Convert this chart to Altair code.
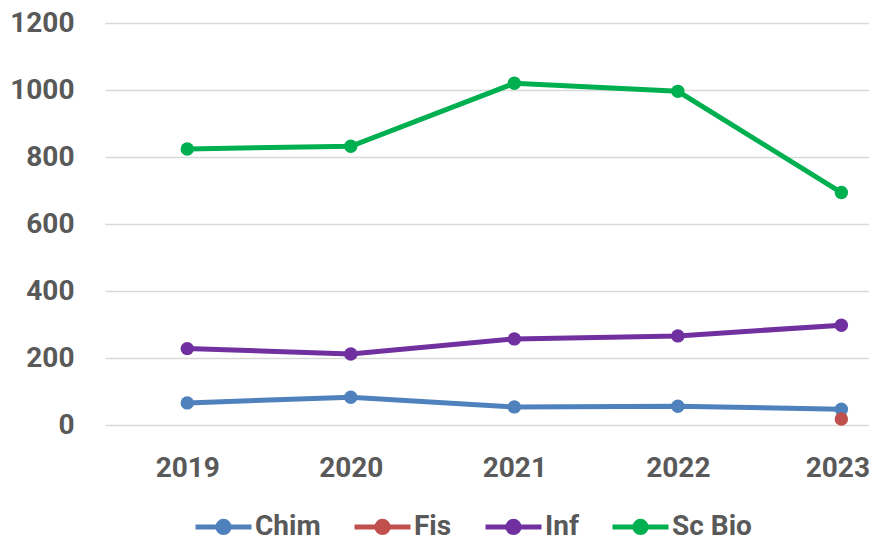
import altair as alt
import pandas as pd

years = [2019, 2020, 2021, 2022, 2023]
series_names = ["Chim", "Fis", "Inf", "Sc Bio"]
chim = [66, 83, 54, 56, 47]
fis = [None, None, None, None, 18]
inf = [228, 212, 257, 266, 298]
sc_bio = [824, 832, 1020, 996, 694]
colors = ["#4F81BD", "#C0504D", "#7030A0", "#00B050"]
y_ticks = [0, 200, 400, 600, 800, 1000, 1200]

rows = []
for name, vals in zip(series_names, [chim, fis, inf, sc_bio]):
    for yr, v in zip(years, vals):
        if v is not None:
            rows.append({"Anno": yr, "Serie": name, "Valore": v})
df = pd.DataFrame(rows)

FONT = "Roboto"
GREY = "#595959"

color = alt.Color(
    "Serie:N",
    scale=alt.Scale(domain=series_names, range=colors),
    legend=alt.Legend(
        title=None,
        orient="none",
        direction="horizontal",
        legendX=88,
        legendY=473,
        symbolType="M-1,0L1,0M-0.2,0A0.2,0.2,0,1,0,0.2,0A0.2,0.2,0,1,0,-0.2,0Z",
        symbolSize=3136,
        symbolStrokeWidth=5,
        symbolOpacity=1,
        labelFont=FONT,
        labelFontSize=28,
        labelFontWeight="bold",
        labelColor=GREY,
        labelOffset=1,
        columnPadding=23,
        labelLimit=300,
    ),
)

x = alt.X(
    "Anno:Q",
    scale=alt.Scale(domain=[2018.497, 2023.169], nice=False, zero=False),
    axis=alt.Axis(
        values=years, format="d", title=None, grid=False, domain=False,
        ticks=False, labelFont=FONT, labelFontSize=28, labelFontWeight="bold",
        labelColor=GREY, labelPadding=29, labelFlush=False, labelOverlap=False,
        labelOffset={"condition": {"test": "datum.value == 2023", "value": -4}, "value": 0},
    ),
)
y = alt.Y(
    "Valore:Q",
    scale=alt.Scale(domain=[0, 1200], nice=False),
    axis=alt.Axis(
        values=y_ticks, format="d", title=None, grid=True, gridColor="#D9D9D9",
        gridWidth=1.5, domain=False, ticks=False, labelFont=FONT,
        labelFontSize=28, labelFontWeight="bold", labelColor=GREY,
        labelPadding=31,
    ),
)

base = alt.Chart(df).encode(x=x, y=y, color=color)
lines = base.mark_line(strokeWidth=5)
points = base.mark_point(filled=True, size=180, opacity=1)

chart = (
    alt.layer(lines, points)
    .properties(
        width=764,
        height=402,
        autosize="none",
        padding={"left": 97, "top": 15, "right": 0, "bottom": 115},
    )
    .configure_view(stroke=None)
)

chart.save("out.html", embed_options={"renderer": "svg", "actions": False})
